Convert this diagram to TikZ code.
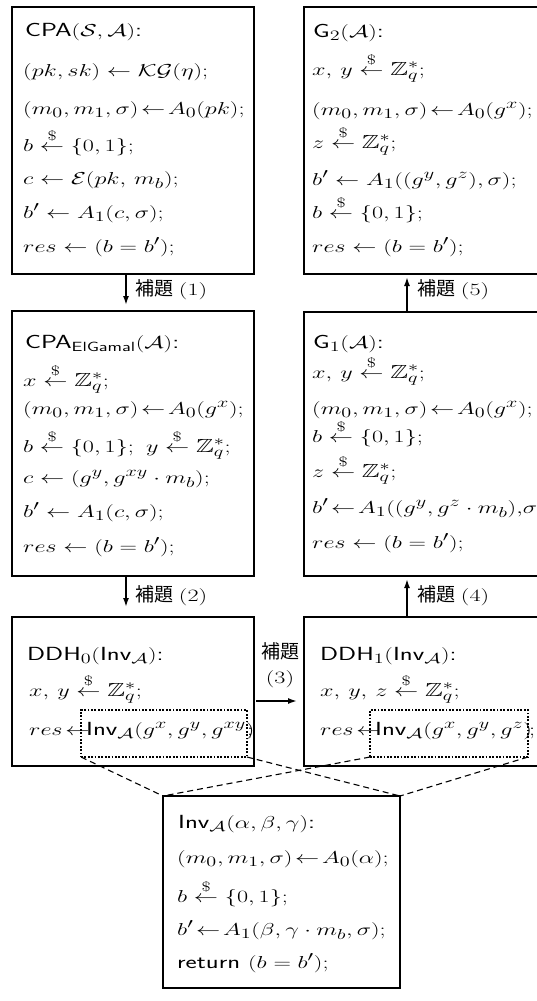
\documentclass[tikz,border=0pt]{standalone}
\usepackage{amsmath,amssymb}
\usepackage{fontspec}
\newfontfamily\cjk{Noto Sans CJK JP}
\usetikzlibrary{arrows.meta}
\newcommand{\Ln}[1]{\scalebox{1.40}[1]{#1}}
\newcommand{\rnd}{\stackrel{\text{\$}}{\leftarrow}}
\newcommand{\tl}{\!\leftarrow\!}
\newcommand{\Zq}{\mathbb{Z}_q^*}
\begin{document}
\begin{tikzpicture}[x=1pt,y=-1pt,
  bigbox/.style={draw, line width=2.6pt, inner sep=0pt, outer sep=0pt, anchor=north west},
  invbox/.style={draw, line width=1.3pt, inner sep=0pt, outer sep=0pt, anchor=north west},
  dotbox/.style={draw, line width=1.8pt, dash pattern=on 1.8pt off 1.6pt, inner sep=0pt, outer sep=0pt, anchor=north west},
  ln/.style={anchor=base west, inner sep=0pt, font=\fontsize{19}{23}\selectfont},
  lab/.style={anchor=west, inner sep=0pt, font=\fontsize{19}{23}\selectfont},
  arr/.style={line width=1.6pt, -{Latex[length=9pt,width=6pt]}},
  dsh/.style={line width=1.1pt, dash pattern=on 6pt off 4pt}]
\useasboundingbox (0,0) rectangle (536,1001);

% boxes
\node[bigbox, minimum width=242pt, minimum height=267pt] (cpa) at (12,7) {};
\node[bigbox, minimum width=300pt, minimum height=267pt] (g2) at (304,7) {};
\node[bigbox, minimum width=242pt, minimum height=265pt] (elg) at (12,311) {};
\node[bigbox, minimum width=300pt, minimum height=264pt] (g1) at (304,312) {};
\node[bigbox, minimum width=242pt, minimum height=149pt] (ddh0) at (12,617) {};
\node[bigbox, minimum width=300pt, minimum height=149pt] (ddh1) at (304,617) {};
\node[invbox, minimum width=237pt, minimum height=192pt] (inv) at (163,796) {};
\node[dotbox, minimum width=166pt, minimum height=47pt] (d0) at (81,710) {};
\node[dotbox, minimum width=158pt, minimum height=47pt] (d1) at (370,710) {};

% CPA
\node[ln] (c0) at (25,36) {\Ln{\textsf{CPA}$(\mathcal{S},\mathcal{A})$\textsf{:}}};
\node[ln] (c1) at (23,76) {\Ln{$(pk,sk)\leftarrow\mathcal{KG}(\eta);$}};
\node[ln] (c2) at (23,114) {\Ln{$(m_0,m_1,\sigma)\tl A_0(pk);$}};
\node[ln] (c3) at (23,151) {\Ln{$b\rnd\{0,1\};$}};
\node[ln] (c4) at (23,184) {\Ln{$c\leftarrow\mathcal{E}(pk,\,m_b);$}};
\node[ln] (c5) at (23,218) {\Ln{$b'\leftarrow A_1(c,\sigma);$}};
\node[ln] (c6) at (23,252) {\Ln{$res\leftarrow(b=b');$}};

% G2
\node[ln] (h0) at (313,37) {\Ln{\textsf{G}$_2(\mathcal{A})$\textsf{:}}};
\node[ln] (h1) at (312,75) {\Ln{$x,\,y\rnd\Zq;$}};
\node[ln] (h2) at (312,115) {\Ln{$(m_0,m_1,\sigma)\tl A_0(g^x);$}};
\node[ln] (h3) at (312,148) {\Ln{$z\rnd\Zq;$}};
\node[ln] (h4) at (312,185) {\Ln{$b'\leftarrow A_1((g^y,g^z),\sigma);$}};
\node[ln] (h5) at (312,218) {\Ln{$b\rnd\{0,1\};$}};
\node[ln] (h6) at (312,252) {\Ln{$res\leftarrow(b=b');$}};

% CPA ElGamal
\node[ln] (e0) at (25,348) {\Ln{\textsf{CPA}$_{\textsf{ElGamal}}(\mathcal{A})$\textsf{:}}};
\node[ln] (e1) at (23,386) {\Ln{$x\rnd\Zq;$}};
\node[ln] (e2) at (23,414) {\Ln{$(m_0,m_1,\sigma)\tl A_0(g^x);$}};
\node[ln] (e3) at (23,452) {\Ln{$b\rnd\{0,1\};\ y\rnd\Zq;$}};
\node[ln] (e4) at (23,483) {\Ln{$c\leftarrow(g^y,g^{xy}\cdot m_b);$}};
\node[ln] (e5) at (23,517) {\Ln{$b'\leftarrow A_1(c,\sigma);$}};
\node[ln] (e6) at (23,552) {\Ln{$res\leftarrow(b=b');$}};

% G1
\node[ln] (f0) at (313,348) {\Ln{\textsf{G}$_1(\mathcal{A})$\textsf{:}}};
\node[ln] (f1) at (312,378) {\Ln{$x,\,y\rnd\Zq;$}};
\node[ln] (f2) at (312,414) {\Ln{$(m_0,m_1,\sigma)\tl A_0(g^x);$}};
\node[ln] (f3) at (312,442) {\Ln{$b\rnd\{0,1\};$}};
\node[ln] (f4) at (312,477) {\Ln{$z\rnd\Zq;$}};
\node[ln] (f5) at (312,513) {\Ln{$b'\tl A_1((g^y,g^z\cdot m_b),\!\sigma);$}};
\node[ln] (f6) at (312,548) {\Ln{$res\leftarrow(b=b');$}};

% DDH0
\node[ln] (p0) at (27,660) {\Ln{\textsf{DDH}$_0(\textsf{Inv}_{\mathcal{A}})$\textsf{:}}};
\node[ln] (p1) at (29,696) {\Ln{$x,\,y\rnd\Zq;$}};
\node[ln] (p2) at (29,735) {\Ln{$res\tl$}};
\node[ln] (p3) at (86,735) {\Ln{\textsf{Inv}$_{\mathcal{A}}(g^x,g^y,g^{xy})$}};
\node[ln] (p4) at (247,735) {\Ln{$;$}};

% DDH1
\node[ln] (q0) at (320,660) {\Ln{\textsf{DDH}$_1(\textsf{Inv}_{\mathcal{A}})$\textsf{:}}};
\node[ln] (q1) at (320,696) {\Ln{$x,\,y,\,z\rnd\Zq;$}};
\node[ln] (q2) at (320,735) {\Ln{$res\tl$}};
\node[ln] (q3) at (375,735) {\Ln{\textsf{Inv}$_{\mathcal{A}}(g^x,g^y,g^z)$}};
\node[ln] (q4) at (529,735) {\Ln{$;$}};

% Inv
\node[ln] (i0) at (178,828) {\Ln{\textsf{Inv}$_{\mathcal{A}}(\alpha,\beta,\gamma)$\textsf{:}}};
\node[ln] (i1) at (177,863) {\Ln{$(m_0,m_1,\sigma)\tl A_0(\alpha);$}};
\node[ln] (i2) at (177,902) {\Ln{$b\rnd\{0,1\};$}};
\node[ln] (i3) at (177,935) {\Ln{$b'\tl A_1(\beta,\gamma\cdot m_b,\sigma);$}};
\node[ln] (i4) at (177,968) {\Ln{\textsf{return} $(b=b');$}};

% arrows
\draw[arr, shorten >=6pt] ([xshift=-7pt]cpa.south) -- ([xshift=-7pt]elg.north);
\draw[arr, shorten >=10pt] ([xshift=-7pt]elg.south) -- ([xshift=-7pt]ddh0.north);
\draw[arr, shorten >=3pt] ([xshift=103pt]g1.north west) -- ([xshift=103pt]g2.south west);
\draw[arr, shorten >=3pt] ([xshift=103pt]ddh1.north west) -- ([xshift=103pt]g1.south west);
\draw[arr, shorten <=2pt, shorten >=7pt] (ddh0.east |- 0,701) coordinate (a3s) -- (ddh1.west |- a3s);

% labels
\node[lab] (l1) at (135,290) {{\cjk 補題} \Ln{$(1)$}};
\node[lab] (l2) at (135,596) {{\cjk 補題} \Ln{$(2)$}};
\node[lab] (l5) at (417,290) {{\cjk 補題} \Ln{$(5)$}};
\node[lab] (l4) at (417,596) {{\cjk 補題} \Ln{$(4)$}};
\node[lab, anchor=center] (l3a) at (280,651) {\cjk 補題};
\node[lab, anchor=center] (l3b) at (280,679) {\Ln{$(3)$}};

% dashed connectors
\draw[dsh] (d0.south west) -- (inv.north west);
\draw[dsh] (d0.south east) -- (inv.north east);
\draw[dsh] (d1.south west) -- (inv.north west);
\draw[dsh] (d1.south east) -- (inv.north east);
\end{tikzpicture}
\end{document}
